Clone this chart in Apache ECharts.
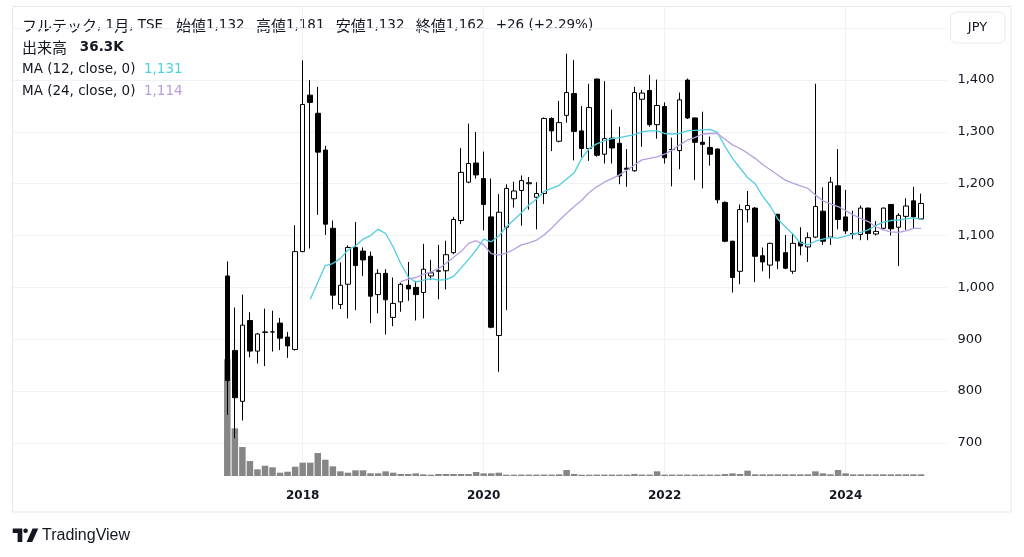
<!DOCTYPE html>
<html>
<head>
<meta charset="utf-8">
<script src="https://cdn.jsdelivr.net/npm/echarts@6/dist/echarts.min.js"></script>
<style>
html,body{margin:0;padding:0;background:#ffffff;}
#c{width:1024px;height:557px;}
</style>
</head>
<body>
<div id="c"></div>
<script>
// ---- data (monthly, 2017-03 .. 2024-11) ----
const months = [
 '2017-03','2017-04','2017-05','2017-06','2017-07','2017-08','2017-09','2017-10','2017-11','2017-12',
 '2018-01','2018-02','2018-03','2018-04','2018-05','2018-06','2018-07','2018-08','2018-09','2018-10','2018-11','2018-12',
 '2019-01','2019-02','2019-03','2019-04','2019-05','2019-06','2019-07','2019-08','2019-09','2019-10','2019-11','2019-12',
 '2020-01','2020-02','2020-03','2020-04','2020-05','2020-06','2020-07','2020-08','2020-09','2020-10','2020-11','2020-12',
 '2021-01','2021-02','2021-03','2021-04','2021-05','2021-06','2021-07','2021-08','2021-09','2021-10','2021-11','2021-12',
 '2022-01','2022-02','2022-03','2022-04','2022-05','2022-06','2022-07','2022-08','2022-09','2022-10','2022-11','2022-12',
 '2023-01','2023-02','2023-03','2023-04','2023-05','2023-06','2023-07','2023-08','2023-09','2023-10','2023-11','2023-12',
 '2024-01','2024-02','2024-03','2024-04','2024-05','2024-06','2024-07','2024-08','2024-09','2024-10','2024-11'
];
const open = [
 1022,878,780,936,877,913,914,931,904,880,
 1069,1371,1336,1265,1114,967,1006,1077,1070,1060,986,1027,
 942,972,1004,1000,990,1022,1031,1032,1067,1129,1203,1240,
 1210,1136,907,1116,1171,1187,1200,1174,1181,1326,1282,1332,
 1374,1302,1268,1402,1257,1288,1278,1230,1225,1363,1380,1314,
 1349,1266,1264,1400,1327,1280,1270,1267,1164,1089,1031,1150,
 1153,1061,1043,1141,1067,1031,1087,1078,1097,1147,1097,1196,
 1136,1104,1102,1153,1103,1114,1160,1116,1137,1167,1132
];
const high = [
 1050,961,986,952,912,959,955,941,914,1120,
 1438,1400,1387,1273,1129,1048,1081,1126,1077,1069,1035,1035,
 1019,1009,1049,1012,1084,1053,1082,1090,1136,1269,1316,1300,
 1262,1210,1180,1199,1204,1216,1213,1203,1328,1328,1360,1451,
 1439,1350,1393,1403,1398,1343,1310,1267,1387,1381,1410,1401,
 1357,1289,1376,1403,1328,1339,1291,1268,1166,1090,1160,1186,
 1155,1077,1086,1142,1101,1103,1116,1106,1393,1193,1213,1267,
 1188,1148,1158,1154,1128,1154,1161,1143,1172,1194,1181
];
const low = [
 754,709,743,865,853,848,876,879,864,878,
 1068,1075,1140,1101,958,958,940,956,1022,931,950,909,
 925,953,974,936,940,1014,977,996,1064,1122,1201,1210,
 1110,921,837,956,1154,1119,1150,1112,1161,1263,1280,1318,
 1245,1251,1244,1252,1239,1239,1199,1194,1223,1271,1310,1287,
 1239,1195,1228,1325,1207,1191,1235,1162,1087,990,1006,1125,
 1010,1031,1017,1035,1035,1026,1062,1049,1095,1082,1082,1112,
 1103,1093,1091,1091,1100,1112,1100,1041,1111,1113,1132
];
const close = [
 820,787,927,877,910,914,914,902,887,1069,
 1353,1357,1261,1122,985,1004,1077,1042,1053,983,1027,976,
 969,1006,997,986,1035,1028,1032,1063,1131,1222,1239,1217,
 1160,923,1145,1191,1186,1206,1202,1181,1326,1302,1318,1376,
 1301,1268,1347,1255,1287,1269,1215,1228,1376,1375,1314,1351,
 1250,1266,1362,1327,1280,1276,1257,1169,1089,1019,1150,1158,
 1060,1049,1085,1051,1037,1085,1080,1096,1156,1089,1203,1131,
 1109,1103,1153,1104,1108,1153,1113,1139,1157,1136,1162
];
// volume in thousands of shares
const volume = [
 2500,1020,620,320,143,220,186,71,92,199,
 285,285,492,349,207,100,71,122,122,58,58,100,
 71,43,43,57,36,28,43,43,43,43,43,86,
 57,57,71,28,28,30,30,30,30,30,36,128,
 43,28,28,30,30,30,30,30,43,30,30,100,
 30,30,30,30,30,30,30,30,43,57,43,114,
 36,36,36,36,36,36,36,36,100,57,36,128,
 57,36,36,36,36,36,36,36,36,36,36.3
];
// moving averages (null = not drawn)
const ma12 = [
 null,null,null,null,null,null,null,null,null,null,
 null,977,1010,1042,1046,1056,1072,1080,1093,1100,1112,1104,
 1078,1046,1020,1010,1014,1017,1014,1015,1021,1037,1054,1072,
 1093,1088,1099,1117,1130,1144,1159,1170,1185,1191,1197,1209,
 1221,1249,1268,1277,1283,1287,1289,1292,1295,1300,1302,1302,
 1297,1296,1297,1302,1303,1304,1305,1299,1272,1249,1230,1212,
 1200,1176,1157,1132,1117,1103,1086,1082,1089,1093,1096,1095,
 1099,1103,1106,1111,1119,1126,1129,1130,1132,1134,1131
];
const ma24 = [
 null,null,null,null,null,null,null,null,null,null,
 null,null,null,null,null,null,null,null,null,null,null,null,
 null,1011,1016,1019,1025,1030,1036,1046,1058,1069,1085,1090,
 1082,1065,1062,1066,1073,1082,1086,1091,1101,1114,1129,1143,
 1156,1168,1183,1194,1203,1210,1217,1226,1236,1246,1249,1252,
 1257,1265,1275,1284,1289,1296,1297,1297,1286,1275,1268,1259,
 1249,1237,1227,1217,1207,1201,1196,1191,1178,1167,1161,1156,
 1148,1140,1133,1127,1117,1111,1107,1106,1109,1114,1114
];
const priceTicks = [700,800,900,1000,1100,1200,1300,1400];
const yearLabels = ['2018','2020','2022','2024'];

// ---- axis padding (empty months before/after the data) ----
const LEAD = 28, TAIL = 3;
const axisCats = [];
for (let i = 0; i < LEAD; i++) axisCats.push('pre' + i);
months.forEach(m => axisCats.push(m));
for (let i = 0; i < TAIL; i++) axisCats.push('post' + i);

const candleData = months.map((m, i) => [m, open[i], close[i], low[i], high[i]]);
const volData = months.map((m, i) => [m, volume[i]]);
const ma12Data = months.map((m, i) => [m, ma12[i] === null ? '-' : ma12[i]]);
const ma24Data = months.map((m, i) => [m, ma24[i] === null ? '-' : ma24[i]]);

const isYearTick = (idx, val) => typeof val === 'string' && val.slice(5) === '01' && yearLabels.includes(val.slice(0, 4));
const fmt = v => Number(v).toLocaleString('en-US');

const last = months.length - 1;
const prevClose = close[last - 1];
const chg = close[last] - prevClose;
const pct = (chg / prevClose * 100).toFixed(2);
const volText = (volume[last]).toFixed(1) + 'K';
const sgn = chg >= 0 ? '+' : '';
const GAP = '  \u2009';

const FONT = "'DejaVu Sans', 'Noto Sans CJK JP', sans-serif";
const CJK = "'Noto Sans CJK JP', sans-serif";
const TXT = '#131722';
const CYAN = '#4ecfe0';
const PURPLE = '#b79fe2';
const GRIDC = '#eef1f6';

const PL = 12.4, PW = 935, CW = PW / axisCats.length;

const richBase = {
  j: {font: '15px ' + CJK, fill: TXT},
  l: {font: '13.5px ' + FONT, fill: TXT},
  b: {font: 'bold 13.5px ' + FONT, fill: TXT},
  c: {font: '13.5px ' + FONT, fill: CYAN},
  p: {font: '13.5px ' + FONT, fill: PURPLE}
};

const chart = echarts.init(document.getElementById('c'));
chart.setOption({
  animation: false,
  backgroundColor: '#ffffff',
  grid: [
    {left: PL, width: PW, top: 28.3, height: 466.3},          // price
    {left: PL, width: PW, top: 326, height: 150},             // volume
    {left: PL + CW / 2, width: PW - CW, top: 6, height: 475}  // time axis
  ],
  xAxis: [
    {type: 'category', gridIndex: 0, data: axisCats, show: false},
    {type: 'category', gridIndex: 1, data: axisCats, show: false},
    {type: 'category', gridIndex: 2, data: axisCats, boundaryGap: false,
     axisLine: {show: false}, axisTick: {show: false},
     axisLabel: {interval: isYearTick, formatter: v => v.slice(0, 4), color: TXT,
                 fontSize: 12, fontWeight: 'bold', fontFamily: FONT, margin: 9},
     splitLine: {show: true, interval: isYearTick, lineStyle: {color: GRIDC, width: 1}}}
  ],
  yAxis: [
    {type: 'value', gridIndex: 0, position: 'right', min: 600, max: 1500, interval: 100,
     axisLine: {show: false}, axisTick: {show: false},
     axisLabel: {color: TXT, fontSize: 13, fontFamily: FONT, margin: 10,
                 formatter: v => priceTicks.includes(v) ? fmt(v) : ''},
     splitLine: {show: true, showMinLine: false, lineStyle: {color: GRIDC, width: 1}}},
    {type: 'value', gridIndex: 1, min: 0, max: 3210, show: false},
    {type: 'value', gridIndex: 2, show: false}
  ],
  series: [
    {type: 'bar', name: 'volume', xAxisIndex: 1, yAxisIndex: 1, data: volData,
     barWidth: 6.5, itemStyle: {color: '#868686'}, z: 1, silent: true},
    {type: 'candlestick', name: 'price', xAxisIndex: 0, yAxisIndex: 0, data: candleData,
     encode: {x: 0, y: [1, 2, 3, 4]}, barWidth: 5,
     itemStyle: {color: '#ffffff', color0: '#000000', borderColor: '#000000', borderColor0: '#000000', borderWidth: 1},
     z: 3, silent: true},
    {type: 'line', name: 'MA12', xAxisIndex: 0, yAxisIndex: 0, data: ma12Data, showSymbol: false,
     lineStyle: {color: CYAN, width: 1.3}, z: 4, silent: true},
    {type: 'line', name: 'MA24', xAxisIndex: 0, yAxisIndex: 0, data: ma24Data, showSymbol: false,
     lineStyle: {color: PURPLE, width: 1.3}, z: 4, silent: true}
  ],
  graphic: [
    {type: 'rect', silent: true, z: -10, shape: {x: 12.5, y: 6.5, width: 998.5, height: 505.5},
     style: {fill: 'none', stroke: '#e6e9f0', lineWidth: 1}},
    {type: 'rect', silent: true, shape: {x: 950.5, y: 12, width: 54.5, height: 31, r: 6},
     style: {fill: '#ffffff', stroke: '#e6e9f0', lineWidth: 1}},
    {type: 'text', silent: true, style: {text: 'JPY', x: 977.5, y: 27.5, align: 'center', verticalAlign: 'middle',
     font: '13px ' + FONT, fill: TXT}},
    {type: 'text', silent: true, style: {
      text: '{j|フルテック}{l|, 1}{j|月}{l|, TSE   }{j|始値}{l|' + fmt(open[last]) + GAP + '}{j|高値}{l|' + fmt(high[last]) +
            GAP + '}{j|安値}{l|' + fmt(low[last]) + GAP + '}{j|終値}{l|' + fmt(close[last]) + GAP + sgn + chg +
            ' (' + sgn + pct + '%)}',
      x: 22, y: 25, verticalAlign: 'middle', rich: richBase}},
    {type: 'text', silent: true, style: {
      text: '{j|出来高}{l|   }{b|' + volText + '}', x: 22, y: 47, verticalAlign: 'middle', rich: richBase}},
    {type: 'text', silent: true, style: {
      text: '{l|MA (12, close, 0)  }{c|' + fmt(ma12[last]) + '}', x: 22, y: 69, verticalAlign: 'middle', rich: richBase}},
    {type: 'text', silent: true, style: {
      text: '{l|MA (24, close, 0)  }{p|' + fmt(ma24[last]) + '}', x: 22, y: 91, verticalAlign: 'middle', rich: richBase}},
    // TradingView mark + wordmark
    {type: 'polygon', silent: true, shape: {points: [[12.7, 528.5], [22.3, 528.5], [22.3, 542], [17.6, 542], [17.6, 533], [12.7, 533]]},
     style: {fill: TXT}},
    {type: 'circle', silent: true, shape: {cx: 25.6, cy: 530.8, r: 2.3}, style: {fill: TXT}},
    {type: 'polygon', silent: true, shape: {points: [[32.6, 528.5], [38.3, 528.5], [32.2, 542], [26.6, 542]]},
     style: {fill: TXT}},
    {type: 'text', silent: true, style: {text: 'TradingView', x: 42, y: 536, verticalAlign: 'middle',
     font: "16px 'Liberation Sans', sans-serif", fill: TXT}}
  ]
});
</script>
</body>
</html>
